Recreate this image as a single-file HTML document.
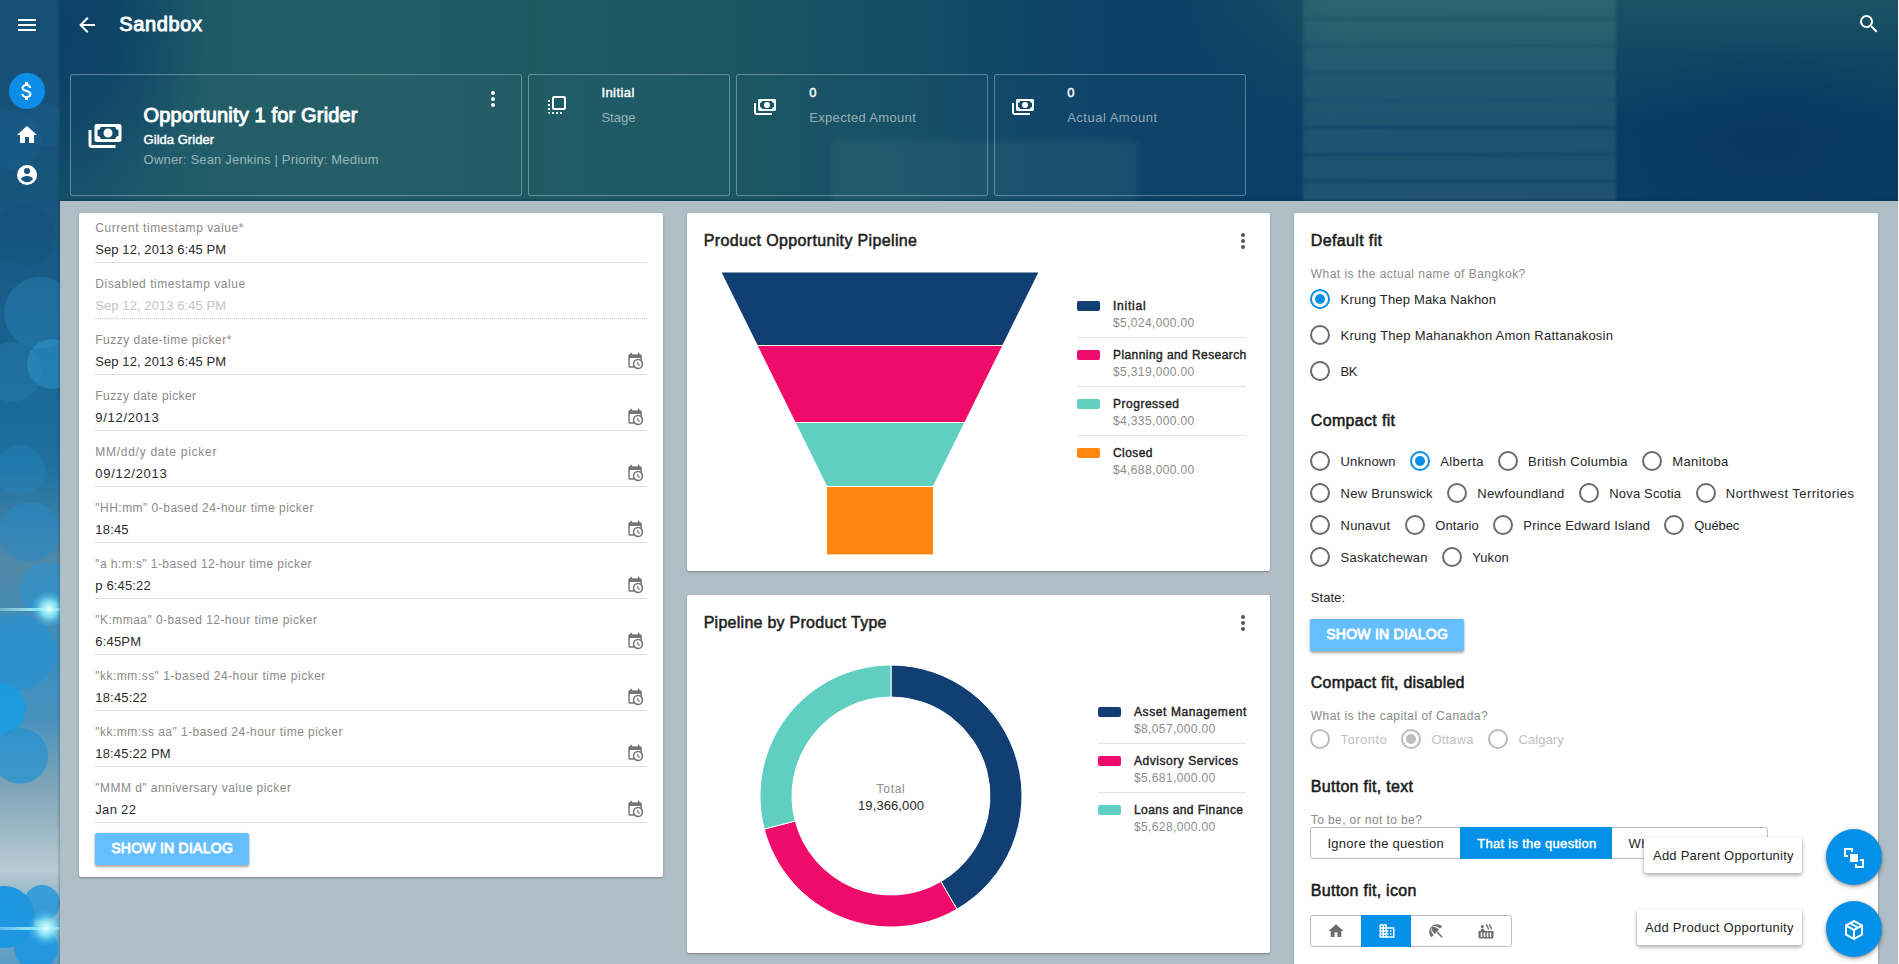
<!DOCTYPE html>
<html lang="en">
<head>
<meta charset="utf-8">
<title>Sandbox</title>
<style>
html,body{margin:0;padding:0}
body{width:1899px;height:964px;overflow:hidden;position:relative;background:#b0bec5;font-family:"Liberation Sans",sans-serif;}
.t{position:absolute;white-space:pre;line-height:1em;}
.m{-webkit-text-stroke:.033em currentColor}
.mb{-webkit-text-stroke:.06em currentColor}
.mh{-webkit-text-stroke:.048em currentColor}
.ic{position:absolute;display:block}
#side{position:absolute;left:0;top:0;width:60px;height:964px;overflow:hidden;
 background:linear-gradient(to bottom,#164e74 0,#17557d 200px,#185d88 300px,#1b6a99 400px,#1d6f9f 460px,#3a7fa6 520px,#5088a8 560px,#4a8bb0 600px,#3b8dbf 660px,#4a92bd 720px,#7aa3b8 780px,#9db8c6 830px,#b9cbd4 870px,#8fb3c6 900px,#5a9cc4 964px);}
#side .b{position:absolute;border-radius:50%}
#hdr{position:absolute;left:60px;top:0;width:1838px;height:201px;overflow:hidden;
 background:linear-gradient(to right,#17526a 0,#205c66 180px,#215d66 300px,#1e5a64 480px,#1a5763 640px,#165163 760px,#134d64 860px,#0f4766 940px,#0d4367 1020px,#0b3f66 1100px,#0b3e66 1300px,#0a3b63 1838px);}
#hdr:after{content:"";position:absolute;left:0;right:0;bottom:0;height:3px;background:linear-gradient(to bottom,rgba(0,30,50,0),rgba(0,30,50,.25))}
#edge{position:absolute;left:1898px;top:0;width:1px;height:964px;background:#f7f7f7}
.hc{position:absolute;top:74px;height:120px;border:1px solid rgba(255,255,255,.32);border-radius:3px;background:rgba(255,255,255,.015)}
.pn{position:absolute;background:#fff;border-radius:2px;box-shadow:0 1px 3px rgba(0,0,0,.2),0 1px 1px rgba(0,0,0,.12)}
.ul{position:absolute;left:95px;width:552px;height:1px;background:#dedede}
.ul.dot{background:none;border-top:1px dotted #c8c8c8;height:0}
.btn{position:absolute;width:154px;height:32px;border-radius:2px;background:#65bfff;box-shadow:0 1.5px 3px rgba(0,0,0,.34),0 0 1px rgba(0,0,0,.15)}
.rd{position:absolute;box-sizing:border-box;width:20px;height:20px;border:2px solid #6b6b6b;border-radius:50%;display:block}
.rd i{position:absolute;left:3px;top:3px;width:10px;height:10px;border-radius:50%;display:block}
.sw{position:absolute;width:23px;height:10px;border-radius:2px}
.sp{position:absolute;height:1px;background:#e4e4e4}
.bg{position:absolute;box-sizing:border-box;border:1px solid #bdbdbd;border-radius:2.5px;background:#fff;overflow:hidden}
.sel{position:absolute;height:32px;background:#0290e9}
.tip{position:absolute;background:#fff;border-radius:2px;box-shadow:0 2px 4px rgba(0,0,0,.34),0 0 1px rgba(0,0,0,.22)}
.fab{position:absolute;width:56px;height:56px;border-radius:50%;background:#0290e9;box-shadow:0 2px 5px rgba(0,0,0,.3),0 1px 2px rgba(0,0,0,.2)}
</style>
</head>
<body>
<div id="side">
<div class="b" style="left:-18px;top:110px;width:60px;height:60px;background:rgba(40,120,180,.16)"></div>
<div class="b" style="left:23px;top:103px;width:44px;height:44px;background:rgba(40,120,180,.13)"></div>
<div class="b" style="left:-5px;top:205px;width:60px;height:60px;background:rgba(20,70,110,.18)"></div>
<div class="b" style="left:4px;top:277px;width:72px;height:72px;background:rgba(50,150,205,.3)"></div>
<div class="b" style="left:27px;top:339px;width:50px;height:50px;background:rgba(55,165,225,.38)"></div>
<div class="b" style="left:-18px;top:342px;width:60px;height:60px;background:rgba(50,145,200,.22)"></div>
<div class="b" style="left:-5px;top:445px;width:50px;height:50px;background:rgba(40,140,200,.3)"></div>
<div class="b" style="left:0px;top:502px;width:60px;height:60px;background:rgba(35,140,205,.45)"></div>
<div class="b" style="left:20px;top:562px;width:56px;height:56px;background:rgba(40,150,215,.5)"></div>
<div class="b" style="left:-20px;top:614px;width:76px;height:76px;background:rgba(35,145,212,.6)"></div>
<div class="b" style="left:-26px;top:683px;width:52px;height:52px;background:rgba(25,155,225,.9)"></div>
<div class="b" style="left:-8px;top:728px;width:56px;height:56px;background:rgba(35,145,210,.7)"></div>
<div class="b" style="left:-27px;top:886px;width:62px;height:62px;background:rgba(25,150,225,.95)"></div>
<div class="b" style="left:24px;top:885px;width:36px;height:36px;background:rgba(35,150,220,.8)"></div>
<div class="b" style="left:14px;top:926px;width:44px;height:44px;background:rgba(30,150,225,.9)"></div>
<div class="b" style="left:-21px;top:607.5px;width:100px;height:3px;border-radius:2px;background:linear-gradient(to right,rgba(150,240,250,.15),rgba(190,250,255,.95) 70%,rgba(150,240,250,.3))"></div>
<div class="b" style="left:31px;top:591px;width:36px;height:36px;background:radial-gradient(circle,rgba(225,255,255,1) 0,rgba(150,240,250,.85) 28%,rgba(90,210,245,.35) 52%,rgba(90,200,245,0) 72%)"></div>
<div class="b" style="left:-24px;top:926.5px;width:100px;height:3px;border-radius:2px;background:linear-gradient(to right,rgba(150,240,250,.15),rgba(190,250,255,.95) 70%,rgba(150,240,250,.3))"></div>
<div class="b" style="left:28px;top:910px;width:36px;height:36px;background:radial-gradient(circle,rgba(225,255,255,1) 0,rgba(150,240,250,.85) 28%,rgba(90,210,245,.35) 52%,rgba(90,200,245,0) 72%)"></div>
<div style="position:absolute;left:57px;top:0;width:3px;height:964px;background:linear-gradient(to right,rgba(0,30,60,0),rgba(0,30,60,.22))"></div>
</div>
<div id="hdr">
<div style="position:absolute;left:-150px;top:-170px;width:300px;height:400px;border-radius:50%;background:radial-gradient(ellipse,rgba(10,64,102,.95) 0,rgba(10,64,102,.75) 30%,rgba(10,64,102,0) 70%)"></div>
<div style="position:absolute;left:1110px;top:0;width:728px;height:130px;background:linear-gradient(to bottom,rgba(36,98,100,.62),rgba(36,98,100,.3) 45%,rgba(36,98,100,0));-webkit-mask-image:linear-gradient(to right,transparent,#000 170px);mask-image:linear-gradient(to right,transparent,#000 170px)"></div>
<div style="position:absolute;left:1540px;top:40px;width:330px;height:200px;border-radius:50%;background:radial-gradient(ellipse,rgba(8,52,96,.75) 0,rgba(8,52,96,0) 70%)"></div>
<div style="position:absolute;left:1243px;top:-6px;width:313px;height:214px;background:repeating-linear-gradient(to bottom,rgba(150,200,165,.15) 0,rgba(150,200,165,.15) 23px,rgba(90,150,150,.08) 25px,rgba(150,200,165,.13) 27px);filter:blur(1.6px);border-radius:6px"></div>
<div style="position:absolute;left:772px;top:140px;width:306px;height:70px;background:rgba(120,180,170,.1);filter:blur(3px);border-radius:5px"></div>
<div style="position:absolute;left:455px;top:0;width:34px;height:201px;background:linear-gradient(to right,rgba(20,80,70,0),rgba(20,80,70,.18) 50%,rgba(20,80,70,0))"></div>
</div>
<div id="edge"></div>
<div class="hc" style="left:70px;width:450px"></div>
<div class="hc" style="left:528px;width:200px"></div>
<div class="hc" style="left:736px;width:250px"></div>
<div class="hc" style="left:994px;width:250px"></div>
<svg class="ic" style="left:15px;top:13px" width="24" height="24" viewBox="0 0 24 24" fill="#fff"><path d="M3,6H21V8H3V6M3,11H21V13H3V11M3,16H21V18H3V16Z"/></svg>
<svg class="ic" style="left:75px;top:13px" width="24" height="24" viewBox="0 0 24 24" fill="#fff"><path d="M20,11V13H8L13.5,18.5L12.08,19.92L4.16,12L12.08,4.08L13.5,5.5L8,11H20Z"/></svg>
<svg class="ic" style="left:1856.5px;top:12.3px" width="24" height="24" viewBox="0 0 24 24" fill="#fff"><path d="M9.5,3A6.5,6.5 0 0,1 16,9.5C16,11.11 15.41,12.59 14.44,13.73L14.71,14H15.5L20.5,19L19,20.5L14,15.5V14.71L13.73,14.44C12.59,15.41 11.11,16 9.5,16A6.5,6.5 0 0,1 3,9.5A6.5,6.5 0 0,1 9.5,3M9.5,5C7,5 5,7 5,9.5C5,12 7,14 9.5,14C12,14 14,12 14,9.5C14,7 12,5 9.5,5Z"/></svg>
<div style="position:absolute;left:9px;top:73px;width:36px;height:36px;border-radius:50%;background:#0c8ee8"></div>
<svg class="ic" style="left:15px;top:79px" width="24" height="24" viewBox="0 0 24 24" fill="#fff"><path d="M11.8 10.9c-2.27-.59-3-1.2-3-2.15 0-1.09 1.01-1.85 2.7-1.85 1.78 0 2.44.85 2.5 2.1h2.21c-.07-1.72-1.12-3.3-3.21-3.81V3h-3v2.16c-1.94.42-3.5 1.68-3.5 3.61 0 2.31 1.91 3.46 4.7 4.13 2.5.6 3 1.48 3 2.41 0 .69-.49 1.79-2.7 1.79-2.06 0-2.87-.92-2.98-2.1h-2.2c.12 2.19 1.76 3.42 3.68 3.83V21h3v-2.15c1.95-.37 3.5-1.5 3.5-3.55 0-2.84-2.43-3.81-4.7-4.4z"/></svg>
<svg class="ic" style="left:15px;top:123px" width="24" height="24" viewBox="0 0 24 24" fill="#fff"><path d="M10,20V14H14V20H19V12H22L12,3L2,12H5V20H10Z"/></svg>
<svg class="ic" style="left:15px;top:163.3px" width="24" height="24" viewBox="0 0 24 24" fill="#fff"><path d="M12,19.2C9.5,19.2 7.29,17.92 6,16C6.03,14 10,12.9 12,12.9C14,12.9 17.97,14 18,16C16.71,17.92 14.5,19.2 12,19.2M12,5A3,3 0 0,1 15,8A3,3 0 0,1 12,11A3,3 0 0,1 9,8A3,3 0 0,1 12,5M12,2A10,10 0 0,0 2,12A10,10 0 0,0 12,22A10,10 0 0,0 22,12C22,6.47 17.5,2 12,2Z"/></svg>
<svg class="ic" style="left:86.5px;top:114.5px" width="36" height="36" viewBox="0 0 24 24" fill="#fff"><path d="M6.4,6H21.6A1.4,1.4 0 0,1 23,7.4V16.600A1.4,1.4 0 0,1 21.6,18H6.4A1.4,1.4 0 0,1 5,16.600V7.4A1.4,1.4 0 0,1 6.4,6ZM14,9A3,3 0 0,1 17,12A3,3 0 0,1 14,15A3,3 0 0,1 11,12A3,3 0 0,1 14,9M9,8A2,2 0 0,1 7,10V14A2,2 0 0,1 9,16H19A2,2 0 0,1 21,14V10A2,2 0 0,1 19,8H9M1,10H3V20H19V22H3.4A2.4,2.4 0 0,1 1,19.600V10Z"/></svg>
<svg class="ic" style="left:481px;top:87px" width="24" height="24" viewBox="0 0 24 24" fill="#fff"><path d="M12,16A2,2 0 0,1 14,18A2,2 0 0,1 12,20A2,2 0 0,1 10,18A2,2 0 0,1 12,16M12,10A2,2 0 0,1 14,12A2,2 0 0,1 12,14A2,2 0 0,1 10,12A2,2 0 0,1 12,10M12,4A2,2 0 0,1 14,6A2,2 0 0,1 12,8A2,2 0 0,1 10,6A2,2 0 0,1 12,4Z"/></svg>
<svg class="ic" style="left:544.5px;top:93px" width="24" height="24" viewBox="0 0 24 24" fill="#fff"><path d="M7,21H9V19H7V21M11,21H13V19H11V21M19,3H9C7.89,3 7,3.89 7,5V15A2,2 0 0,0 9,17H19A2,2 0 0,0 21,15V5C21,3.89 20.1,3 19,3M19,15H9V5H19V15M15,21H17V19H15V21M3,9H5V7H3V9M5,21V19H3A2,2 0 0,0 5,21M3,17H5V15H3V17M3,13H5V11H3V13Z"/></svg>
<svg class="ic" style="left:752.7px;top:93px" width="24" height="24" viewBox="0 0 24 24" fill="#fff"><path d="M6.4,6H21.6A1.4,1.4 0 0,1 23,7.4V16.600A1.4,1.4 0 0,1 21.6,18H6.4A1.4,1.4 0 0,1 5,16.600V7.4A1.4,1.4 0 0,1 6.4,6ZM14,9A3,3 0 0,1 17,12A3,3 0 0,1 14,15A3,3 0 0,1 11,12A3,3 0 0,1 14,9M9,8A2,2 0 0,1 7,10V14A2,2 0 0,1 9,16H19A2,2 0 0,1 21,14V10A2,2 0 0,1 19,8H9M1,10H3V20H19V22H3.4A2.4,2.4 0 0,1 1,19.600V10Z"/></svg>
<svg class="ic" style="left:1010.7px;top:93px" width="24" height="24" viewBox="0 0 24 24" fill="#fff"><path d="M6.4,6H21.6A1.4,1.4 0 0,1 23,7.4V16.600A1.4,1.4 0 0,1 21.6,18H6.4A1.4,1.4 0 0,1 5,16.600V7.4A1.4,1.4 0 0,1 6.4,6ZM14,9A3,3 0 0,1 17,12A3,3 0 0,1 14,15A3,3 0 0,1 11,12A3,3 0 0,1 14,9M9,8A2,2 0 0,1 7,10V14A2,2 0 0,1 9,16H19A2,2 0 0,1 21,14V10A2,2 0 0,1 19,8H9M1,10H3V20H19V22H3.4A2.4,2.4 0 0,1 1,19.600V10Z"/></svg>
<div class="pn" style="left:79px;top:213px;width:584px;height:664px"></div>
<div class="pn" style="left:687px;top:213px;width:583px;height:358px"></div>
<div class="pn" style="left:687px;top:595px;width:583px;height:358px"></div>
<div class="pn" style="left:1294px;top:213px;width:584px;height:760px"></div>
<div class="btn" style="left:95px;top:833px"></div>
<div class="btn" style="left:1310px;top:619px"></div>
<svg class="ic" style="left:1231px;top:228.5px" width="24" height="24" viewBox="0 0 24 24" fill="#555"><path d="M12,16A2,2 0 0,1 14,18A2,2 0 0,1 12,20A2,2 0 0,1 10,18A2,2 0 0,1 12,16M12,10A2,2 0 0,1 14,12A2,2 0 0,1 12,14A2,2 0 0,1 10,12A2,2 0 0,1 12,10M12,4A2,2 0 0,1 14,6A2,2 0 0,1 12,8A2,2 0 0,1 10,6A2,2 0 0,1 12,4Z"/></svg>
<svg class="ic" style="left:1231px;top:610.5px" width="24" height="24" viewBox="0 0 24 24" fill="#555"><path d="M12,16A2,2 0 0,1 14,18A2,2 0 0,1 12,20A2,2 0 0,1 10,18A2,2 0 0,1 12,16M12,10A2,2 0 0,1 14,12A2,2 0 0,1 12,14A2,2 0 0,1 10,12A2,2 0 0,1 12,10M12,4A2,2 0 0,1 14,6A2,2 0 0,1 12,8A2,2 0 0,1 10,6A2,2 0 0,1 12,4Z"/></svg>
<svg class="ic" style="left:687px;top:213px" width="583" height="358" viewBox="687 213 583 358"><polygon fill="#113f73" points="721.7,272.4 1038.3,272.4 1002.4,345.2 757.6,345.2"/><polygon fill="#ee0b6b" points="757.6,345.2 1002.4,345.2 964.2,422.8 795.8,422.8"/><polygon fill="#60cec0" points="795.8,422.8 964.2,422.8 933.0,486.0 827.0,486.0"/><rect fill="#ff870f" x="827" y="486.0" width="106" height="68.4"/><rect fill="#fff" x="756.6" y="345" width="246.8" height="1"/><rect fill="#fff" x="794.8" y="422" width="170.3" height="1"/><rect fill="#fff" x="826.0" y="486" width="108.0" height="1"/></svg>
<svg class="ic" style="left:687px;top:595px" width="583" height="358" viewBox="687 595 583 358"><path fill="#113f73" stroke="#fff" stroke-width="1" d="M891.00,665.00 A131,131 0 0 1 956.95,909.19 L940.84,881.54 A99,99 0 0 0 891.00,697.00 Z"/><path fill="#ee0b6b" stroke="#fff" stroke-width="1" d="M956.95,909.19 A131,131 0 0 1 764.24,829.07 L795.21,820.99 A99,99 0 0 0 940.84,881.54 Z"/><path fill="#60cec0" stroke="#fff" stroke-width="1" d="M764.24,829.07 A131,131 0 0 1 891.00,665.00 L891.00,697.00 A99,99 0 0 0 795.21,820.99 Z"/></svg>
<div class="sw" style="left:1077px;top:301px;background:#113f73"></div>
<div class="sp" style="left:1077px;width:169px;top:337px"></div>
<div class="sw" style="left:1077px;top:350px;background:#ee0b6b"></div>
<div class="sp" style="left:1077px;width:169px;top:386px"></div>
<div class="sw" style="left:1077px;top:399px;background:#60cec0"></div>
<div class="sp" style="left:1077px;width:169px;top:435px"></div>
<div class="sw" style="left:1077px;top:448px;background:#ff870f"></div>
<div class="sw" style="left:1098px;top:707px;background:#113f73"></div>
<div class="sp" style="left:1098px;width:148px;top:743px"></div>
<div class="sw" style="left:1098px;top:756px;background:#ee0b6b"></div>
<div class="sp" style="left:1098px;width:148px;top:792px"></div>
<div class="sw" style="left:1098px;top:805px;background:#60cec0"></div>
<div class="bg" style="left:1310px;top:827px;width:458px;height:32px"></div><div class="sel" style="left:1460px;top:827px;width:152px"></div>
<div class="bg" style="left:1310px;top:915px;width:202px;height:32px"></div><div class="sel" style="left:1361px;top:915px;width:50px"></div>
<svg class="ic" style="left:1327px;top:922px" width="18" height="18" viewBox="0 0 24 24" fill="#6e6e6e"><path d="M10,20V14H14V20H19V12H22L12,3L2,12H5V20H10Z"/></svg>
<svg class="ic" style="left:1377.5px;top:922px" width="18" height="18" viewBox="0 0 24 24" fill="#fff"><path d="M12 7V3H2v18h20V7H12zM6 19H4v-2h2v2zm0-4H4v-2h2v2zm0-4H4V9h2v2zm0-4H4V5h2v2zm4 12H8v-2h2v2zm0-4H8v-2h2v2zm0-4H8V9h2v2zm0-4H8V5h2v2zm10 12h-8v-2h2v-2h-2v-2h2v-2h-2V9h8v10zm-2-8h-2v2h2v-2zm0 4h-2v2h2v-2z"/></svg>
<svg class="ic" style="left:1427px;top:922px" width="18" height="18" viewBox="0 0 24 24" fill="#6e6e6e"><path d="M13.127 14.56l1.43-1.43 6.44 6.443L19.57 21zm4.293-5.73l2.86-2.86c-3.95-3.95-10.35-3.96-14.3-.02 3.93-1.3 8.31-.25 11.44 2.88zM5.95 5.98c-3.94 3.95-3.93 10.35.02 14.3l2.86-2.86C5.7 14.29 4.65 9.91 5.95 5.98zm.02-.02l-.01.01c-.38 3.01 1.17 6.88 4.3 10.02l5.73-5.73c-3.13-3.13-7.01-4.68-10.02-4.3z"/></svg>
<svg class="ic" style="left:1477px;top:922px" width="18" height="18" viewBox="0 0 24 24" fill="#6e6e6e"><circle cx="7" cy="6" r="2"/><path d="M11.15 12c-.31-.22-.59-.46-.82-.72l-1.4-1.55c-.19-.21-.43-.38-.69-.5-.29-.14-.62-.23-.96-.23h-.03C6.01 9 5 10.01 5 11.25V12H2v8c0 1.1.9 2 2 2h16c1.1 0 2-.9 2-2v-8H11.15zM7 20H5v-6h2v6zm4 0H9v-6h2v6zm4 0h-2v-6h2v6zm4 0h-2v-6h2v6zm-.35-14.14l-.07-.07c-.57-.62-.82-1.41-.67-2.2L18 3h-1.89l-.06.43c-.2 1.36.27 2.71 1.3 3.72l.07.06c.57.62.82 1.41.67 2.2l-.11.59h1.91l.06-.43c.21-1.36-.27-2.71-1.3-3.71zm-4 0l-.07-.07c-.57-.62-.82-1.41-.67-2.2L14 3h-1.890l-.06.43c-.2 1.36.27 2.71 1.3 3.72l.07.06c.57.62.82 1.41.67 2.2l-.11.59h1.910l.06-.43c.21-1.36-.27-2.710-1.3-3.71z"/></svg>
<div class="ul" style="top:262px"></div>
<div class="ul dot" style="top:318px"></div>
<div class="ul" style="top:374px"></div>
<svg class="ic" style="left:625.75px;top:352px" width="18" height="18" viewBox="0 0 24 24" fill="#757575"><path d="M15,13H16.5V15.82L18.94,17.23L18.19,18.53L15,16.69V13M19,8H5V19H9.67C9.24,18.09 9,17.07 9,16A7,7 0 0,1 16,9C17.07,9 18.09,9.24 19,9.67V8M5,21C3.89,21 3,20.1 3,19V5C3,3.89 3.89,3 5,3H6V1H8V3H16V1H18V3H19A2,2 0 0,1 21,5V11.1C22.24,12.36 23,14.09 23,16A7,7 0 0,1 16,23C14.09,23 12.36,22.24 11.1,21H5M16,11.15A4.85,4.85 0 0,0 11.15,16C11.15,18.68 13.32,20.85 16,20.85A4.85,4.85 0 0,0 20.85,16C20.85,13.32 18.68,11.15 16,11.15Z"/></svg>
<div class="ul" style="top:430px"></div>
<svg class="ic" style="left:625.75px;top:408px" width="18" height="18" viewBox="0 0 24 24" fill="#757575"><path d="M15,13H16.5V15.82L18.94,17.23L18.19,18.53L15,16.69V13M19,8H5V19H9.67C9.24,18.09 9,17.07 9,16A7,7 0 0,1 16,9C17.07,9 18.09,9.24 19,9.67V8M5,21C3.89,21 3,20.1 3,19V5C3,3.89 3.89,3 5,3H6V1H8V3H16V1H18V3H19A2,2 0 0,1 21,5V11.1C22.24,12.36 23,14.09 23,16A7,7 0 0,1 16,23C14.09,23 12.36,22.24 11.1,21H5M16,11.15A4.85,4.85 0 0,0 11.15,16C11.15,18.68 13.32,20.85 16,20.85A4.85,4.85 0 0,0 20.85,16C20.85,13.32 18.68,11.15 16,11.15Z"/></svg>
<div class="ul" style="top:486px"></div>
<svg class="ic" style="left:625.75px;top:464px" width="18" height="18" viewBox="0 0 24 24" fill="#757575"><path d="M15,13H16.5V15.82L18.94,17.23L18.19,18.53L15,16.69V13M19,8H5V19H9.67C9.24,18.09 9,17.07 9,16A7,7 0 0,1 16,9C17.07,9 18.09,9.24 19,9.67V8M5,21C3.89,21 3,20.1 3,19V5C3,3.89 3.89,3 5,3H6V1H8V3H16V1H18V3H19A2,2 0 0,1 21,5V11.1C22.24,12.36 23,14.09 23,16A7,7 0 0,1 16,23C14.09,23 12.36,22.24 11.1,21H5M16,11.15A4.85,4.85 0 0,0 11.15,16C11.15,18.68 13.32,20.85 16,20.85A4.85,4.85 0 0,0 20.85,16C20.85,13.32 18.68,11.15 16,11.15Z"/></svg>
<div class="ul" style="top:542px"></div>
<svg class="ic" style="left:625.75px;top:520px" width="18" height="18" viewBox="0 0 24 24" fill="#757575"><path d="M15,13H16.5V15.82L18.94,17.23L18.19,18.53L15,16.69V13M19,8H5V19H9.67C9.24,18.09 9,17.07 9,16A7,7 0 0,1 16,9C17.07,9 18.09,9.24 19,9.67V8M5,21C3.89,21 3,20.1 3,19V5C3,3.89 3.89,3 5,3H6V1H8V3H16V1H18V3H19A2,2 0 0,1 21,5V11.1C22.24,12.36 23,14.09 23,16A7,7 0 0,1 16,23C14.09,23 12.36,22.24 11.1,21H5M16,11.15A4.85,4.85 0 0,0 11.15,16C11.15,18.68 13.32,20.85 16,20.85A4.85,4.85 0 0,0 20.85,16C20.85,13.32 18.68,11.15 16,11.15Z"/></svg>
<div class="ul" style="top:598px"></div>
<svg class="ic" style="left:625.75px;top:576px" width="18" height="18" viewBox="0 0 24 24" fill="#757575"><path d="M15,13H16.5V15.82L18.94,17.23L18.19,18.53L15,16.69V13M19,8H5V19H9.67C9.24,18.09 9,17.07 9,16A7,7 0 0,1 16,9C17.07,9 18.09,9.24 19,9.67V8M5,21C3.89,21 3,20.1 3,19V5C3,3.89 3.89,3 5,3H6V1H8V3H16V1H18V3H19A2,2 0 0,1 21,5V11.1C22.24,12.36 23,14.09 23,16A7,7 0 0,1 16,23C14.09,23 12.36,22.24 11.1,21H5M16,11.15A4.85,4.85 0 0,0 11.15,16C11.15,18.68 13.32,20.85 16,20.85A4.85,4.85 0 0,0 20.85,16C20.85,13.32 18.68,11.15 16,11.15Z"/></svg>
<div class="ul" style="top:654px"></div>
<svg class="ic" style="left:625.75px;top:632px" width="18" height="18" viewBox="0 0 24 24" fill="#757575"><path d="M15,13H16.5V15.82L18.94,17.23L18.19,18.53L15,16.69V13M19,8H5V19H9.67C9.24,18.09 9,17.07 9,16A7,7 0 0,1 16,9C17.07,9 18.09,9.24 19,9.67V8M5,21C3.89,21 3,20.1 3,19V5C3,3.89 3.89,3 5,3H6V1H8V3H16V1H18V3H19A2,2 0 0,1 21,5V11.1C22.24,12.36 23,14.09 23,16A7,7 0 0,1 16,23C14.09,23 12.36,22.24 11.1,21H5M16,11.15A4.85,4.85 0 0,0 11.15,16C11.15,18.68 13.32,20.85 16,20.85A4.85,4.85 0 0,0 20.85,16C20.85,13.32 18.68,11.15 16,11.15Z"/></svg>
<div class="ul" style="top:710px"></div>
<svg class="ic" style="left:625.75px;top:688px" width="18" height="18" viewBox="0 0 24 24" fill="#757575"><path d="M15,13H16.5V15.82L18.94,17.23L18.19,18.53L15,16.69V13M19,8H5V19H9.67C9.24,18.09 9,17.07 9,16A7,7 0 0,1 16,9C17.07,9 18.09,9.24 19,9.67V8M5,21C3.89,21 3,20.1 3,19V5C3,3.89 3.89,3 5,3H6V1H8V3H16V1H18V3H19A2,2 0 0,1 21,5V11.1C22.24,12.36 23,14.09 23,16A7,7 0 0,1 16,23C14.09,23 12.36,22.24 11.1,21H5M16,11.15A4.85,4.85 0 0,0 11.15,16C11.15,18.68 13.32,20.85 16,20.85A4.85,4.85 0 0,0 20.85,16C20.85,13.32 18.68,11.15 16,11.15Z"/></svg>
<div class="ul" style="top:766px"></div>
<svg class="ic" style="left:625.75px;top:744px" width="18" height="18" viewBox="0 0 24 24" fill="#757575"><path d="M15,13H16.5V15.82L18.94,17.23L18.19,18.53L15,16.69V13M19,8H5V19H9.67C9.24,18.09 9,17.07 9,16A7,7 0 0,1 16,9C17.07,9 18.09,9.24 19,9.67V8M5,21C3.89,21 3,20.1 3,19V5C3,3.89 3.89,3 5,3H6V1H8V3H16V1H18V3H19A2,2 0 0,1 21,5V11.1C22.24,12.36 23,14.09 23,16A7,7 0 0,1 16,23C14.09,23 12.36,22.24 11.1,21H5M16,11.15A4.85,4.85 0 0,0 11.15,16C11.15,18.68 13.32,20.85 16,20.85A4.85,4.85 0 0,0 20.85,16C20.85,13.32 18.68,11.15 16,11.15Z"/></svg>
<div class="ul" style="top:822px"></div>
<svg class="ic" style="left:625.75px;top:800px" width="18" height="18" viewBox="0 0 24 24" fill="#757575"><path d="M15,13H16.5V15.82L18.94,17.23L18.19,18.53L15,16.69V13M19,8H5V19H9.67C9.24,18.09 9,17.07 9,16A7,7 0 0,1 16,9C17.07,9 18.09,9.24 19,9.67V8M5,21C3.89,21 3,20.1 3,19V5C3,3.89 3.89,3 5,3H6V1H8V3H16V1H18V3H19A2,2 0 0,1 21,5V11.1C22.24,12.36 23,14.09 23,16A7,7 0 0,1 16,23C14.09,23 12.36,22.24 11.1,21H5M16,11.15A4.85,4.85 0 0,0 11.15,16C11.15,18.68 13.32,20.85 16,20.85A4.85,4.85 0 0,0 20.85,16C20.85,13.32 18.68,11.15 16,11.15Z"/></svg>
<b class="rd" style="left:1310.0px;top:289.0px;border-color:#0c8ee8"><i style="background:#0c8ee8"></i></b><b class="rd" style="left:1310.0px;top:325.0px;border-color:#6b6b6b"></b><b class="rd" style="left:1310.0px;top:361.0px;border-color:#6b6b6b"></b><b class="rd" style="left:1310.0px;top:451.3px;border-color:#6b6b6b"></b><b class="rd" style="left:1409.7px;top:451.3px;border-color:#0c8ee8"><i style="background:#0c8ee8"></i></b><b class="rd" style="left:1497.6px;top:451.3px;border-color:#6b6b6b"></b><b class="rd" style="left:1641.9px;top:451.3px;border-color:#6b6b6b"></b><b class="rd" style="left:1310.0px;top:483.3px;border-color:#6b6b6b"></b><b class="rd" style="left:1446.7px;top:483.3px;border-color:#6b6b6b"></b><b class="rd" style="left:1578.8px;top:483.3px;border-color:#6b6b6b"></b><b class="rd" style="left:1695.5px;top:483.3px;border-color:#6b6b6b"></b><b class="rd" style="left:1310.0px;top:515.3px;border-color:#6b6b6b"></b><b class="rd" style="left:1404.9px;top:515.3px;border-color:#6b6b6b"></b><b class="rd" style="left:1492.8px;top:515.3px;border-color:#6b6b6b"></b><b class="rd" style="left:1664.0px;top:515.3px;border-color:#6b6b6b"></b><b class="rd" style="left:1310.0px;top:547.3px;border-color:#6b6b6b"></b><b class="rd" style="left:1442.0px;top:547.3px;border-color:#6b6b6b"></b><b class="rd" style="left:1310.0px;top:729.4px;border-color:#bcbcbc"></b><b class="rd" style="left:1401.0px;top:729.4px;border-color:#bcbcbc"><i style="background:#bcbcbc"></i></b><b class="rd" style="left:1488.0px;top:729.4px;border-color:#bcbcbc"></b>
<span class="t mh" style="left:119.3px;top:14.0px;font-size:20px;color:#fff;letter-spacing:0.605px;">Sandbox</span>
<span class="t mh" style="left:143.6px;top:105.0px;font-size:20px;color:#fff;letter-spacing:0.165px;">Opportunity 1 for Grider</span>
<span class="t m" style="left:143.6px;top:133.0px;font-size:13px;color:#fff;letter-spacing:0.029px;">Gilda Grider</span>
<span class="t" style="left:143.6px;top:153.0px;font-size:13px;color:rgba(255,255,255,.55);letter-spacing:0.184px;">Owner: Sean Jenkins | Priority: Medium</span>
<span class="t m" style="left:601.4px;top:86.0px;font-size:13px;color:#fff;letter-spacing:0.423px;">Initial</span>
<span class="t" style="left:601.4px;top:111.0px;font-size:13px;color:rgba(255,255,255,.55);letter-spacing:0.054px;">Stage</span>
<span class="t m" style="left:809.2px;top:86.0px;font-size:13px;color:#fff;letter-spacing:-0.034px;">0</span>
<span class="t" style="left:809.2px;top:111.0px;font-size:13px;color:rgba(255,255,255,.55);letter-spacing:0.335px;">Expected Amount</span>
<span class="t m" style="left:1067.2px;top:86.0px;font-size:13px;color:#fff;letter-spacing:-0.034px;">0</span>
<span class="t" style="left:1067.2px;top:111.0px;font-size:13px;color:rgba(255,255,255,.55);letter-spacing:0.498px;">Actual Amount</span>
<span class="t" style="left:95.3px;top:222.0px;font-size:12px;color:#8a8a8a;letter-spacing:0.553px;">Current timestamp value*</span>
<span class="t" style="left:95.3px;top:243.0px;font-size:13px;color:#2b2b2b;letter-spacing:0.080px;">Sep 12, 2013 6:45 PM</span>
<span class="t" style="left:95.3px;top:278.0px;font-size:12px;color:#8a8a8a;letter-spacing:0.543px;">Disabled timestamp value</span>
<span class="t" style="left:95.3px;top:299.0px;font-size:13px;color:#c4c4c4;letter-spacing:0.080px;">Sep 12, 2013 6:45 PM</span>
<span class="t" style="left:95.3px;top:334.0px;font-size:12px;color:#8a8a8a;letter-spacing:0.483px;">Fuzzy date-time picker*</span>
<span class="t" style="left:95.3px;top:355.0px;font-size:13px;color:#2b2b2b;letter-spacing:0.080px;">Sep 12, 2013 6:45 PM</span>
<span class="t" style="left:95.3px;top:390.0px;font-size:12px;color:#8a8a8a;letter-spacing:0.422px;">Fuzzy date picker</span>
<span class="t" style="left:95.3px;top:411.0px;font-size:13px;color:#2b2b2b;letter-spacing:0.695px;">9/12/2013</span>
<span class="t" style="left:95.3px;top:446.0px;font-size:12px;color:#8a8a8a;letter-spacing:0.725px;">MM/dd/y date picker</span>
<span class="t" style="left:95.3px;top:467.0px;font-size:13px;color:#2b2b2b;letter-spacing:0.702px;">09/12/2013</span>
<span class="t" style="left:95.3px;top:502.0px;font-size:12px;color:#8a8a8a;letter-spacing:0.476px;">"HH:mm" 0-based 24-hour time picker</span>
<span class="t" style="left:95.3px;top:523.0px;font-size:13px;color:#2b2b2b;letter-spacing:0.188px;">18:45</span>
<span class="t" style="left:95.3px;top:558.0px;font-size:12px;color:#8a8a8a;letter-spacing:0.433px;">"a h:m:s" 1-based 12-hour time picker</span>
<span class="t" style="left:95.3px;top:579.0px;font-size:13px;color:#2b2b2b;letter-spacing:0.148px;">p 6:45:22</span>
<span class="t" style="left:95.3px;top:614.0px;font-size:12px;color:#8a8a8a;letter-spacing:0.450px;">"K:mmaa" 0-based 12-hour time picker</span>
<span class="t" style="left:95.3px;top:635.0px;font-size:13px;color:#2b2b2b;letter-spacing:0.178px;">6:45PM</span>
<span class="t" style="left:95.3px;top:670.0px;font-size:12px;color:#8a8a8a;letter-spacing:0.489px;">"kk:mm:ss" 1-based 24-hour time picker</span>
<span class="t" style="left:95.3px;top:691.0px;font-size:13px;color:#2b2b2b;letter-spacing:0.170px;">18:45:22</span>
<span class="t" style="left:95.3px;top:726.0px;font-size:12px;color:#8a8a8a;letter-spacing:0.462px;">"kk:mm:ss aa" 1-based 24-hour time picker</span>
<span class="t" style="left:95.3px;top:747.0px;font-size:13px;color:#2b2b2b;letter-spacing:0.168px;">18:45:22 PM</span>
<span class="t" style="left:95.3px;top:782.0px;font-size:12px;color:#8a8a8a;letter-spacing:0.463px;">"MMM d" anniversary value picker</span>
<span class="t" style="left:95.3px;top:803.0px;font-size:13px;color:#2b2b2b;letter-spacing:0.311px;">Jan 22</span>
<span class="t mb" style="left:111.2px;top:841.0px;font-size:14px;color:#fff;letter-spacing:0.259px;">SHOW IN DIALOG</span>
<span class="t m" style="left:703.7px;top:233.0px;font-size:16px;color:#222;letter-spacing:0.357px;">Product Opportunity Pipeline</span>
<span class="t m" style="left:703.7px;top:615.0px;font-size:16px;color:#222;letter-spacing:0.265px;">Pipeline by Product Type</span>
<span class="t m" style="left:1113.0px;top:300.0px;font-size:12px;color:#222;letter-spacing:0.764px;">Initial</span>
<span class="t" style="left:1113.0px;top:317.0px;font-size:12px;color:#8c8c8c;letter-spacing:0.379px;">$5,024,000.00</span>
<span class="t m" style="left:1113.0px;top:349.0px;font-size:12px;color:#222;letter-spacing:0.427px;">Planning and Research</span>
<span class="t" style="left:1113.0px;top:366.0px;font-size:12px;color:#8c8c8c;letter-spacing:0.379px;">$5,319,000.00</span>
<span class="t m" style="left:1113.0px;top:398.0px;font-size:12px;color:#222;letter-spacing:0.514px;">Progressed</span>
<span class="t" style="left:1113.0px;top:415.0px;font-size:12px;color:#8c8c8c;letter-spacing:0.379px;">$4,335,000.00</span>
<span class="t m" style="left:1113.0px;top:447.0px;font-size:12px;color:#222;letter-spacing:0.408px;">Closed</span>
<span class="t" style="left:1113.0px;top:464.0px;font-size:12px;color:#8c8c8c;letter-spacing:0.379px;">$4,688,000.00</span>
<span class="t m" style="left:1134.0px;top:706.0px;font-size:12px;color:#222;letter-spacing:0.594px;">Asset Management</span>
<span class="t" style="left:1134.0px;top:723.0px;font-size:12px;color:#8c8c8c;letter-spacing:0.379px;">$8,057,000.00</span>
<span class="t m" style="left:1134.0px;top:755.0px;font-size:12px;color:#222;letter-spacing:0.539px;">Advisory Services</span>
<span class="t" style="left:1134.0px;top:772.0px;font-size:12px;color:#8c8c8c;letter-spacing:0.379px;">$5,681,000.00</span>
<span class="t m" style="left:1134.0px;top:804.0px;font-size:12px;color:#222;letter-spacing:0.433px;">Loans and Finance</span>
<span class="t" style="left:1134.0px;top:821.0px;font-size:12px;color:#8c8c8c;letter-spacing:0.379px;">$5,628,000.00</span>
<span class="t" style="left:876.5px;top:783.0px;font-size:12px;color:#8c8c8c;letter-spacing:0.735px;">Total</span>
<span class="t" style="left:858.0px;top:799.0px;font-size:13px;color:#262626;letter-spacing:0.102px;">19,366,000</span>
<span class="t m" style="left:1310.8px;top:233.0px;font-size:16px;color:#1a1a1a;letter-spacing:0.361px;">Default fit</span>
<span class="t" style="left:1310.8px;top:268.0px;font-size:12px;color:#8a8a8a;letter-spacing:0.462px;">What is the actual name of Bangkok?</span>
<span class="t" style="left:1340.6px;top:293.0px;font-size:13px;color:#262626;letter-spacing:0.184px;">Krung Thep Maka Nakhon</span>
<span class="t" style="left:1340.6px;top:329.0px;font-size:13px;color:#262626;letter-spacing:0.252px;">Krung Thep Mahanakhon Amon Rattanakosin</span>
<span class="t" style="left:1340.6px;top:365.0px;font-size:13px;color:#262626;letter-spacing:-0.600px;">BK</span>
<span class="t m" style="left:1310.8px;top:413.0px;font-size:16px;color:#1a1a1a;letter-spacing:0.328px;">Compact fit</span>
<span class="t" style="left:1340.6px;top:455.0px;font-size:13px;color:#262626;letter-spacing:0.116px;">Unknown</span>
<span class="t" style="left:1440.2px;top:455.0px;font-size:13px;color:#262626;letter-spacing:0.349px;">Alberta</span>
<span class="t" style="left:1528.1px;top:455.0px;font-size:13px;color:#262626;letter-spacing:0.310px;">British Columbia</span>
<span class="t" style="left:1672.3px;top:455.0px;font-size:13px;color:#262626;letter-spacing:0.359px;">Manitoba</span>
<span class="t" style="left:1340.6px;top:487.0px;font-size:13px;color:#262626;letter-spacing:0.262px;">New Brunswick</span>
<span class="t" style="left:1477.2px;top:487.0px;font-size:13px;color:#262626;letter-spacing:0.361px;">Newfoundland</span>
<span class="t" style="left:1609.3px;top:487.0px;font-size:13px;color:#262626;letter-spacing:0.161px;">Nova Scotia</span>
<span class="t" style="left:1725.8px;top:487.0px;font-size:13px;color:#262626;letter-spacing:0.462px;">Northwest Territories</span>
<span class="t" style="left:1340.6px;top:519.0px;font-size:13px;color:#262626;letter-spacing:0.163px;">Nunavut</span>
<span class="t" style="left:1435.2px;top:519.0px;font-size:13px;color:#262626;letter-spacing:0.143px;">Ontario</span>
<span class="t" style="left:1523.3px;top:519.0px;font-size:13px;color:#262626;letter-spacing:0.198px;">Prince Edward Island</span>
<span class="t" style="left:1694.2px;top:519.0px;font-size:13px;color:#262626;letter-spacing:-0.069px;">Québec</span>
<span class="t" style="left:1340.6px;top:551.0px;font-size:13px;color:#262626;letter-spacing:0.213px;">Saskatchewan</span>
<span class="t" style="left:1472.2px;top:551.0px;font-size:13px;color:#262626;letter-spacing:0.086px;">Yukon</span>
<span class="t" style="left:1310.8px;top:591.0px;font-size:13px;color:#262626;letter-spacing:0.046px;">State:</span>
<span class="t mb" style="left:1326.2px;top:627.0px;font-size:14px;color:#fff;letter-spacing:0.259px;">SHOW IN DIALOG</span>
<span class="t m" style="left:1310.8px;top:675.0px;font-size:16px;color:#1a1a1a;letter-spacing:0.215px;">Compact fit, disabled</span>
<span class="t" style="left:1310.8px;top:710.0px;font-size:12px;color:#8a8a8a;letter-spacing:0.461px;">What is the capital of Canada?</span>
<span class="t" style="left:1340.6px;top:733.0px;font-size:13px;color:#bfbfbf;letter-spacing:0.471px;">Toronto</span>
<span class="t" style="left:1431.4px;top:733.0px;font-size:13px;color:#bfbfbf;letter-spacing:0.202px;">Ottawa</span>
<span class="t" style="left:1518.6px;top:733.0px;font-size:13px;color:#bfbfbf;letter-spacing:0.051px;">Calgary</span>
<span class="t m" style="left:1310.8px;top:779.0px;font-size:16px;color:#1a1a1a;letter-spacing:0.291px;">Button fit, text</span>
<span class="t" style="left:1310.8px;top:814.0px;font-size:12px;color:#8a8a8a;letter-spacing:0.400px;">To be, or not to be?</span>
<span class="t" style="left:1327.4px;top:837.0px;font-size:13px;color:#262626;letter-spacing:0.277px;">Ignore the question</span>
<span class="t m" style="left:1477.2px;top:837.0px;font-size:13px;color:#fff;letter-spacing:0.296px;">That is the question</span>
<span class="t" style="left:1628.6px;top:837.0px;font-size:13px;color:#262626;letter-spacing:0.468px;">Whether 'tis nobler</span>
<span class="t m" style="left:1310.8px;top:883.0px;font-size:16px;color:#1a1a1a;letter-spacing:0.274px;">Button fit, icon</span>
<div class="tip" style="left:1644px;top:837px;width:158px;height:36px"></div>
<div class="tip" style="left:1637px;top:909px;width:165px;height:36px"></div>
<div class="fab" style="left:1826px;top:829px"></div>
<div class="fab" style="left:1826px;top:901px"></div>
<svg class="ic" style="left:1842px;top:845.5px" width="24" height="24" viewBox="0 0 24 24" fill="#fff"><path d="M2,2H11V6H9V4H4V9H6V11H2V2M22,13V22H13V18H15V20H20V15H18V13H22M8,8H16V16H8V8Z"/></svg>
<svg class="ic" style="left:1842px;top:918px" width="24" height="24" viewBox="0 0 24 24" fill="#fff"><path d="M21,16.5C21,16.88 20.79,17.21 20.47,17.38L12.57,21.82C12.41,21.94 12.21,22 12,22C11.79,22 11.59,21.94 11.43,21.82L3.53,17.38C3.21,17.21 3,16.88 3,16.5V7.5C3,7.12 3.21,6.79 3.53,6.62L11.43,2.18C11.59,2.06 11.79,2 12,2C12.21,2 12.41,2.06 12.57,2.18L20.47,6.62C20.79,6.79 21,7.12 21,7.5V16.5M12,4.15L10.11,5.22L16,8.61L17.96,7.5L12,4.15M6.04,7.5L12,10.85L13.96,9.75L8.08,6.35L6.04,7.5M5,15.91L11,19.29V12.58L5,9.21V15.91M19,15.91V9.21L13,12.58V19.29L19,15.91Z"/></svg>
<span class="t" style="left:1653.0px;top:849.0px;font-size:13px;color:#262626;letter-spacing:0.221px;">Add Parent Opportunity</span>
<span class="t" style="left:1645.0px;top:921.0px;font-size:13px;color:#262626;letter-spacing:0.279px;">Add Product Opportunity</span>
</body>
</html>
